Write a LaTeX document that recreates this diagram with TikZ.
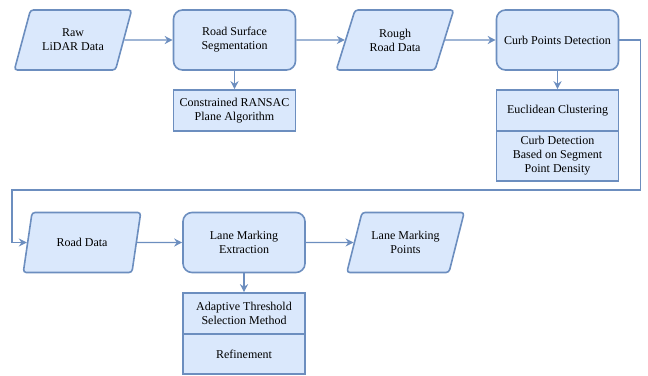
\documentclass[tikz,border=0pt]{standalone}
\usepackage{fontspec}
\setmainfont{Liberation Serif}
\usepackage{tikz}
\usetikzlibrary{positioning,shapes.geometric,arrows.meta}

\definecolor{boxfill}{HTML}{DAE8FC}
\definecolor{boxline}{HTML}{6C8EBF}

\begin{document}
\begin{tikzpicture}[x=1pt,y=-1pt,
        font=\fontsize{12}{14}\selectfont,
        iodata/.style={trapezium,trapezium left angle=62,trapezium right angle=118,
          trapezium stretches=true,draw=boxline,fill=boxfill,line width=1.6pt,
          rounded corners=3pt,align=center,inner sep=0pt,
          minimum width=118pt,minimum height=60pt},
        process/.style={rectangle,rounded corners=9pt,draw=boxline,fill=boxfill,
          line width=1.6pt,align=center,inner sep=0pt,
          minimum width=122pt,minimum height=60pt},
        subtask/.style={rectangle,draw=boxline,fill=boxfill,line width=1.6pt,
          align=center,inner sep=0pt,minimum width=122pt},
        flow/.style={draw=boxline,line width=1.3pt,-{Stealth[length=8pt,width=8pt]}}]
      \useasboundingbox (0,0) rectangle (648,375);
      % first row
      \node (raw) at (73,40) [iodata] {Raw\\LiDAR Data};
      \node (seg) at (234.5,40) [process] {Road Surface\\Segmentation};
      \node (ransac) at (234.5,110.5) [subtask,minimum height=41pt] {Constrained RANSAC\\Plane Algorithm};
      \node (rough) at (395,40) [iodata] {Rough\\Road Data};
      \node (curb) at (557.5,40) [process] {Curb Points Detection};
      \node (clust) at (557.5,110.5) [subtask,minimum height=41pt] {Euclidean Clustering};
      \node (dens) at (557.5,156) [subtask,minimum height=50pt] {Curb Detection\\Based on Segment\\Point Density};
      % second row
      \node (road) at (82,242.5) [iodata] {Road Data};
      \node (lane) at (244,242.5) [process] {Lane Marking\\Extraction};
      \node (pts) at (405.5,242.5) [iodata] {Lane Marking\\Points};
      \node (adapt) at (244,313.5) [subtask,minimum height=41pt] {Adaptive Threshold\\Selection Method};
      \node (refine) at (244,354) [subtask,minimum height=40pt] {Refinement};
      \coordinate (turn) at (12,190);
      % connectors
      \draw[flow] (raw) -- (seg);
      \draw[flow] (seg) -- (ransac);
      \draw[flow] (seg) -- (rough);
      \draw[flow] (rough) -- (curb);
      \draw[flow] (curb) -- (clust);
      \draw[flow] (curb.east) -- ++(21,0) |- (turn) |- (road.west);
      \draw[flow] (road) -- (lane);
      \draw[flow] (lane) -- (adapt);
      \draw[flow] (lane) -- (pts);
    \end{tikzpicture}
\end{document}
